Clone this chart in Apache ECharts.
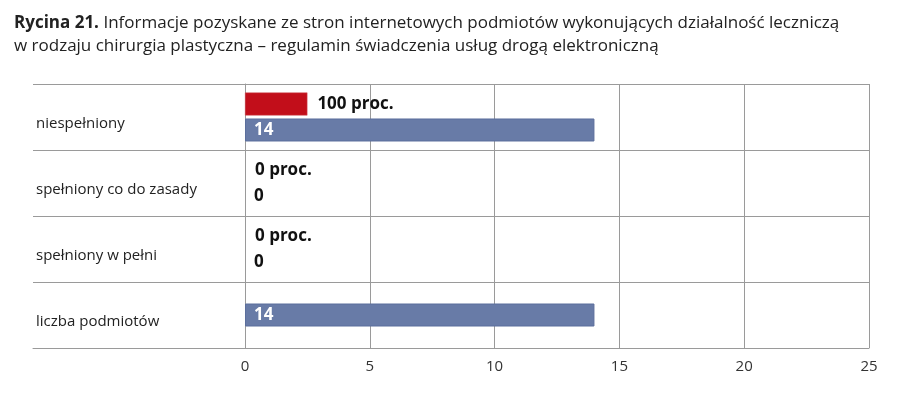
<!DOCTYPE html>
<html>
<head>
<meta charset="utf-8">
<script src="https://cdn.jsdelivr.net/npm/echarts@6/dist/echarts.min.js"></script>
<style>
html,body{margin:0;padding:0;background:#fff;}
#chart{width:900px;height:393px;}
</style>
</head>
<body>
<div id="chart"></div>
<script>
// ---- data ----
const titleBold = 'Rycina 21.';
const titleLine1 = ' Informacje pozyskane ze stron internetowych podmiotów wykonujących działalność leczniczą';
const titleLine2 = 'w rodzaju chirurgia plastyczna – regulamin świadczenia usług drogą elektroniczną';
const categories = ['niespełniony', 'spełniony co do zasady', 'spełniony w pełni', 'liczba podmiotów'];
const percentValues = [100, 0, 0, null];        // proc.
const countValues = [14, 0, 0, null];           // liczba
const totalValues = [null, null, null, 14];     // liczba podmiotów
const xTicks = [0, 5, 10, 15, 20, 25];

const FONT = '"Open Sans", "Noto Sans", sans-serif';
const GRID_COLOR = '#9a9a9a';
const RED = '#C20E1A';
const BLUE = '#687BA7';

const chart = echarts.init(document.getElementById('chart'), null, {renderer: 'canvas'});

function countItem(v) {
  if (v === null) return null;
  return {
    value: v,
    itemStyle: {borderWidth: v > 0 ? 1 : 0},
    label: {
      show: true,
      position: 'insideLeft',
      distance: 9,
      formatter: '{c}',
      fontFamily: FONT,
      fontWeight: 'bold',
      fontSize: 17,
      color: v > 0 ? '#ffffff' : '#111111'
    }
  };
}
function percentItem(v) {
  if (v === null) return null;
  return {value: v, itemStyle: {borderWidth: v > 0 ? 0.5 : 0}};
}

const option = {
  backgroundColor: '#ffffff',
  animation: false,
  title: {
    left: 14, top: 12, padding: 0,
    text: '{b|' + titleBold + '}{n|' + titleLine1 + '}\n{n|' + titleLine2 + '}',
    textStyle: {
      rich: {
        b: {fontFamily: FONT, fontWeight: 'bold', fontSize: 17, color: '#222', lineHeight: 23},
        n: {fontFamily: FONT, fontWeight: 'normal', fontSize: 17, color: '#222', lineHeight: 23}
      }
    }
  },
  grid: [
    {left: 245, right: 31, top: 84, bottom: 45, containLabel: false},
    {left: 33, width: 212, top: 84, bottom: 45, containLabel: false}
  ],
  xAxis: [
    {
      gridIndex: 0, type: 'value', min: 0, max: 25, interval: 5,
      axisLine: {show: true, lineStyle: {color: GRID_COLOR, width: 1}},
      axisTick: {show: false},
      axisLabel: {color: '#333', fontFamily: FONT, fontSize: 15, margin: 11},
      splitLine: {show: true, lineStyle: {color: GRID_COLOR, width: 1}}
    },
    {
      gridIndex: 0, type: 'value', min: 0, max: 1000, show: false
    },
    {
      gridIndex: 1, type: 'value', min: 0, max: 1,
      axisLine: {show: true, lineStyle: {color: GRID_COLOR, width: 1}},
      axisTick: {show: false}, axisLabel: {show: false}, splitLine: {show: false}
    }
  ],
  yAxis: [
    {
      gridIndex: 0, type: 'category', data: categories, inverse: true,
      axisLine: {show: true, lineStyle: {color: GRID_COLOR, width: 1}},
      axisTick: {show: false},
      axisLabel: {
        align: 'left', verticalAlign: 'top', lineHeight: 14,
        margin: 209, color: '#222', fontFamily: FONT, fontSize: 15
      },
      splitLine: {show: true, lineStyle: {color: GRID_COLOR, width: 1}}
    },
    {
      gridIndex: 0, type: 'category', data: categories, inverse: true, show: false
    },
    {
      gridIndex: 1, type: 'category', data: categories, inverse: true,
      axisLine: {show: false}, axisTick: {show: false}, axisLabel: {show: false},
      splitLine: {show: true, lineStyle: {color: GRID_COLOR, width: 1}}
    }
  ],
  series: [
    {
      name: 'proc', type: 'bar', xAxisIndex: 1, yAxisIndex: 0,
      barWidth: 23, barGap: '13%',
      itemStyle: {color: RED, borderColor: '#d0505a'},
      label: {
        show: true, position: 'right', distance: 10,
        formatter: function (p) { return p.value + ' proc.'; },
        fontFamily: FONT, fontWeight: 'bold', fontSize: 17, color: '#111'
      },
      data: percentValues.map(percentItem)
    },
    {
      name: 'liczba', type: 'bar', xAxisIndex: 0, yAxisIndex: 0,
      barWidth: 23, barGap: '13%',
      itemStyle: {color: BLUE, borderColor: '#5b6e9c'},
      data: countValues.map(countItem)
    },
    {
      name: 'razem', type: 'bar', xAxisIndex: 0, yAxisIndex: 1,
      barWidth: 23,
      itemStyle: {color: BLUE, borderColor: '#5b6e9c'},
      data: totalValues.map(countItem)
    }
  ]
};
chart.setOption(option);
</script>
</body>
</html>
